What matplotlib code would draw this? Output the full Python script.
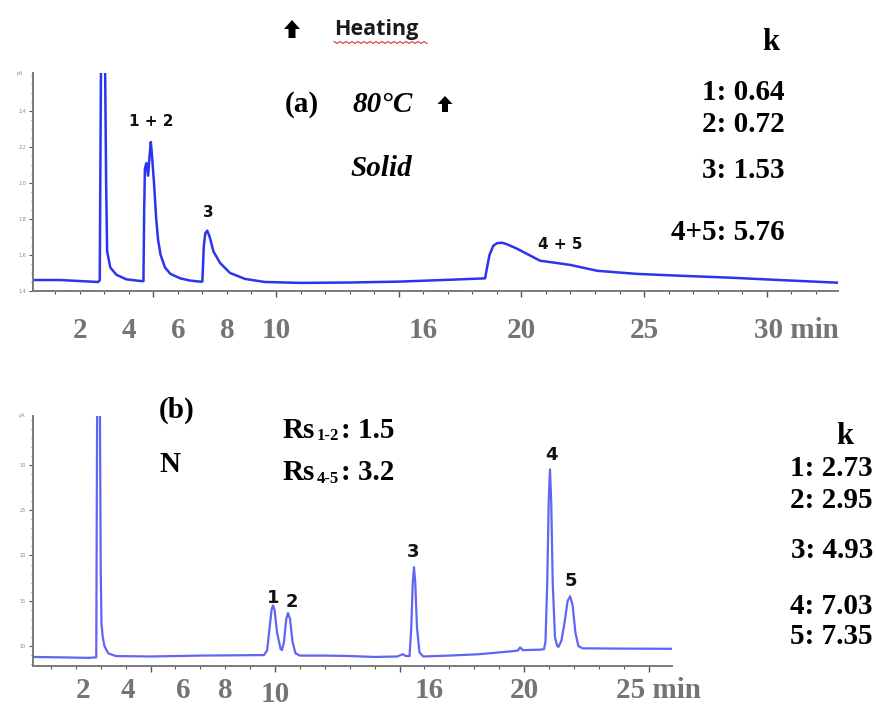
import numpy as np
import matplotlib
matplotlib.use("Agg")
import matplotlib.pyplot as plt
from matplotlib.ticker import MultipleLocator, NullFormatter
from matplotlib.lines import Line2D
from matplotlib.patches import FancyArrow

#%% data (time in min, signal)
t_top = [0.1, 1.2, 2.75, 2.82, 2.88, 3.02, 3.08, 3.12, 3.25, 3.5, 3.9, 4.5,
         4.60, 4.63, 4.66, 4.72, 4.79, 4.85, 4.90, 4.95, 5.03, 5.12, 5.20, 5.30,
         5.48, 5.70, 6.10, 6.50, 6.90,
         7.00, 7.03, 7.06, 7.12, 7.20, 7.30, 7.45, 7.72, 8.13, 8.74, 9.55,
         11.0, 13.0, 15.0, 17.0, 18.5,
         18.52, 18.60, 18.70, 18.85, 19.0, 19.2, 19.4, 19.82, 20.76, 21.3, 21.98,
         23.1, 24.7, 26.6, 28.5, 30.5, 32.9]
y_top = [1.461, 1.461, 1.45, 1.46, 2.9, 2.9, 2.0, 1.62, 1.53, 1.49, 1.465, 1.455,
         1.455, 1.85, 2.08, 2.11, 2.04, 2.15, 2.227, 2.15, 2.0, 1.80, 1.68, 1.60,
         1.53, 1.495, 1.47, 1.458, 1.452,
         1.452, 1.55, 1.65, 1.72, 1.735, 1.70, 1.62, 1.556, 1.50, 1.467, 1.45,
         1.445, 1.447, 1.452, 1.462, 1.47,
         1.47, 1.53, 1.60, 1.65, 1.665, 1.668, 1.66, 1.635, 1.568, 1.558, 1.545,
         1.512, 1.495, 1.484, 1.474, 1.461, 1.446]

t_bot = [0.28, 1.5, 2.5, 2.82, 2.86, 2.96, 3.0, 3.03, 3.08, 3.15, 3.3, 3.6, 5.0, 7.0, 9.3,
         9.55, 9.68, 9.78, 9.86, 9.92, 9.98, 10.08, 10.22, 10.28, 10.36, 10.45, 10.52,
         10.60, 10.70, 10.82, 11.0, 12.0, 13.0, 14.0, 14.9, 15.14, 15.25,
         15.40, 15.47, 15.53, 15.58, 15.63, 15.70, 15.80, 15.95,
         17.0, 18.2, 19.4, 19.75, 19.84, 19.95, 20.6, 20.80,
         20.86, 20.93, 20.99, 21.04, 21.09, 21.15, 21.24, 21.33, 21.38,
         21.5, 21.62, 21.75, 21.85, 21.95, 22.06, 22.18, 22.35, 24.0, 25.94]
y_bot = [8.8, 8.75, 8.7, 8.75, 40.0, 40.0, 18.4, 12.5, 11.0, 10.0, 9.2, 8.9, 8.85, 8.95, 9.0,
         9.0, 9.5, 12.0, 14.0, 14.5, 14.0, 11.5, 9.7, 9.56, 10.5, 13.0, 13.64,
         13.0, 10.5, 9.2, 8.95, 8.95, 8.9, 8.8, 8.85, 9.1, 8.9,
         8.9, 12.0, 17.0, 18.7, 17.0, 12.0, 9.3, 8.85,
         8.95, 9.1, 9.4, 9.5, 9.85, 9.55, 9.6, 9.65,
         10.5, 17.0, 26.0, 29.5, 26.0, 17.0, 11.0, 10.0, 9.9,
         10.6, 12.5, 15.0, 15.5, 14.5, 11.5, 10.0, 9.75, 9.72, 9.7]

# x labels written under each trace
xlab_top = ["2", "4", "6", "8", "10", "16", "20", "25", "30 min"]
xpos_top = [2, 4, 6, 8, 10, 16, 20, 25, 31.2]
xlab_bot = ["2", "4", "6", "8", "10", "16", "20", "25 min"]
xpos_bot = [2.3, 4.1, 6.3, 8.0, 10.0, 16.2, 20.0, 25.4]

# peak labels (text, time, signal)
pk_top = [("1 + 2", 4.9, 2.34), ("3", 7.23, 1.836), ("4 + 5", 21.6, 1.657)]
pk_bot = [("1", 9.92, 15.3), ("2", 10.68, 14.86), ("3", 15.54, 20.4),
          ("4", 21.08, 31.1), ("5", 21.89, 17.2)]

k_top = ["1: 0.64", "2: 0.72", "3: 1.53", "4+5: 5.76"]
k_top_y = [92, 124, 170, 232]
k_bot = ["1: 2.73", "2: 2.95", "3: 4.93", "4: 7.03", "5: 7.35"]
k_bot_y = [469, 501, 551, 606, 637]

W, H = 876, 711
def fx(x):
    return x / W
def fy(y):
    return 1 - y / H

serif = "Liberation Serif"
grey = "#747474"

fig = plt.figure(figsize=(W / 100, H / 100), dpi=100)
ax1 = fig.add_axes([fx(33), fy(291), (838 - 33) / W, (291 - 73) / H])
ax2 = fig.add_axes([fx(33), fy(666), (672 - 33) / W, (666 - 416) / H])

def style(ax, ymaj, ymin):
    for s in ["top", "right"]:
        ax.spines[s].set_visible(False)
    for s in ["left", "bottom"]:
        ax.spines[s].set_color("#7a7a7a")
        ax.spines[s].set_linewidth(1.4)
    ax.xaxis.set_major_locator(MultipleLocator(5))
    ax.xaxis.set_minor_locator(MultipleLocator(1))
    ax.xaxis.set_major_formatter(NullFormatter())
    ax.yaxis.set_major_locator(MultipleLocator(ymaj))
    ax.yaxis.set_minor_locator(MultipleLocator(ymin))
    ax.tick_params(axis="x", which="major", length=4, width=1, color="#555555")
    ax.tick_params(axis="x", which="minor", length=2.5, width=0.8, color="#555555")
    ax.tick_params(axis="y", which="major", length=3, width=0.8, color="#555555",
                   labelsize=3.5, labelcolor="#888888", pad=2)
    ax.tick_params(axis="y", which="minor", length=1.5, width=0.6, color="#555555")
    ax.set_facecolor("none")

def up_arrow(xc, ytop, length, head_w, head_l, shaft_w):
    # block arrow drawn in figure fraction, sizes given in pixels
    fig.add_artist(FancyArrow(fx(xc), fy(ytop + length), 0, length / H,
                              width=shaft_w / W, head_width=head_w / W,
                              head_length=head_l / H, length_includes_head=True,
                              transform=fig.transFigure, color="black", lw=0))

ax1.plot(t_top, y_top, color="#2b35f0", lw=1.8, solid_joinstyle="round")
ax1.set_xlim(0.1, 32.9)
ax1.set_ylim(1.4, 2.61)
style(ax1, 0.2, 0.05)
ax1.set_yticks([1.4, 1.6, 1.8, 2.0, 2.2, 2.4])
ax1.set_yticklabels(["1.4", "1.6", "1.8", "2.0", "2.2", "2.4"])
ax1.text(-0.012, 1.0, "pA", transform=ax1.transAxes, fontsize=3.5,
         color="#888888", ha="right", va="center")

ax2.plot(t_bot, y_bot, color="#6065f2", lw=1.6, solid_joinstyle="round")
ax2.set_xlim(0.28, 25.94)
ax2.set_ylim(7.8, 35.4)
style(ax2, 5, 1)
ax2.set_yticks([10, 15, 20, 25, 30])
ax2.set_yticklabels(["10", "15", "20", "25", "30"])
ax2.text(-0.012, 1.0, "pA", transform=ax2.transAxes, fontsize=3.5,
         color="#888888", ha="right", va="center")

# time labels under the axes
for lab, t in zip(xlab_top, xpos_top):
    xd = ax1.transData.transform((t, 1.5))[0] / W
    fig.text(xd, fy(331), lab, family=serif, fontweight="bold", fontsize=21,
             color=grey, ha="center", va="center")
for lab, t in zip(xlab_bot, xpos_bot):
    xd = ax2.transData.transform((t, 10))[0] / W
    yy = 695 if lab == "10" else 691
    fig.text(xd, fy(yy), lab, family=serif, fontweight="bold", fontsize=21,
             color=grey, ha="center", va="center")

# peak labels
for lab, t, v in pk_top:
    ax1.text(t, v, lab, fontsize=11, fontweight="bold", color="#111111",
             ha="center", va="center")
for lab, t, v in pk_bot:
    ax2.text(t, v, lab, fontsize=13, fontweight="bold", color="#111111",
             ha="center", va="center")

# heating header
up_arrow(292, 20, 18, 16, 9, 7)
fig.text(fx(334), fy(30), "Heating", family="Open Sans", fontweight="bold",
         fontsize=15.5, color="#1a1a1a", ha="left", va="center")
wx = np.arange(334, 429, 3)
wy = np.where(np.arange(len(wx)) % 2 == 0, 41.5, 43.5)
fig.add_artist(Line2D(fx(wx), fy(wy), color="#e03030", lw=0.8))

# panel (a) notes
fig.text(fx(302), fy(104), "(a)", family=serif, fontweight="bold", fontsize=21,
         ha="center", va="center")
fig.text(fx(352), fy(104), "80\u00b0C", family=serif, fontweight="bold",
         style="italic", fontsize=21, ha="left", va="center")
up_arrow(445, 96, 16, 15, 8, 6)
fig.text(fx(350), fy(168), "Solid", family=serif, fontweight="bold",
         style="italic", fontsize=21, ha="left", va="center")

fig.text(fx(771), fy(42), "k", family=serif, fontweight="bold", fontsize=22,
         ha="center", va="center")
for lab, y in zip(k_top, k_top_y):
    fig.text(fx(785), fy(y), lab, family=serif, fontweight="bold", fontsize=21,
             ha="right", va="center")

# panel (b) notes
fig.text(fx(177), fy(410), "(b)", family=serif, fontweight="bold", fontsize=21,
         ha="center", va="center")
fig.text(fx(170), fy(465), "N", family=serif, fontweight="bold", fontsize=21,
         ha="center", va="center")
for sub, val, y in [("1-2", ": 1.5", 430), ("4-5", ": 3.2", 473)]:
    fig.text(fx(283), fy(y), "Rs", family=serif, fontweight="bold", fontsize=21,
             ha="left", va="center")
    fig.text(fx(317), fy(y + 6), sub, family=serif, fontweight="bold", fontsize=12,
             ha="left", va="center")
    fig.text(fx(341), fy(y), val, family=serif, fontweight="bold", fontsize=21,
             ha="left", va="center")

fig.text(fx(845), fy(437), "k", family=serif, fontweight="bold", fontsize=22,
         ha="center", va="center")
for lab, y in zip(k_bot, k_bot_y):
    fig.text(fx(873), fy(y), lab, family=serif, fontweight="bold", fontsize=21,
             ha="right", va="center")

fig.savefig("out.png", dpi=100)
